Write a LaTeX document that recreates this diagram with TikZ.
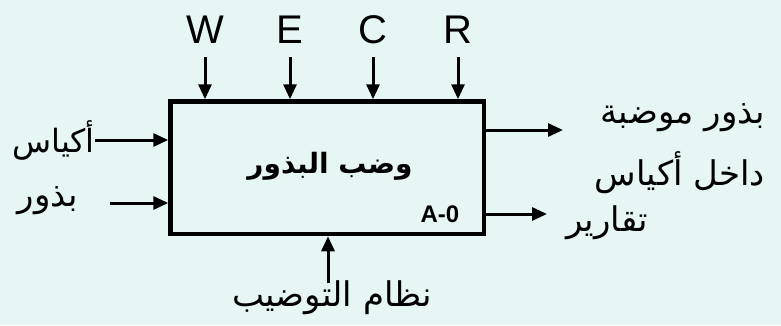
\documentclass[tikz,border=0pt]{standalone}
\usepackage{fontspec}
\setmainfont{Liberation Sans}
\newfontfamily\arabicfont[Script=Arabic]{DejaVu Sans}
\TeXXeTstate=1
\usetikzlibrary{arrows.meta}
\definecolor{bgc}{RGB}{230,246,244}
\tikzset{
  arr/.style={line width=3pt,-{Triangle[length=15pt,width=13pt]}},
  lat/.style={font=\fontsize{40}{40}\selectfont, inner sep=0pt},
  ar/.style={font=\fontsize{34}{34}\arabicfont, inner sep=0pt},
  procbox/.style={draw, line width=4.5pt, minimum width=313.5pt, minimum height=132.5pt, inner sep=0pt}
}
\begin{document}
\begin{tikzpicture}[x=1pt,y=-1pt]
\fill[bgc] (0,0) rectangle (781,325);
\useasboundingbox (0,0) rectangle (781,325);
\node[procbox] (box) at (327.25,167.75) {};
\node[font=\fontsize{28}{28}\arabicfont\bfseries, inner sep=0pt] (title) at (330,166) {\beginR وضب البذور\endR};
\node[font=\fontsize{24}{24}\selectfont\bfseries, inner sep=0pt] (a0) at (440,214) {A-0};
% top controls
\node[lat] (W) at (205,30) {W};
\node[lat] (E) at (290,30) {E};
\node[lat] (C) at (373,30) {C};
\node[lat] (R) at (458,30) {R};
\foreach \n in {W,E,C,R}{
  \coordinate (\n s) at ([yshift=-13pt]\n.south);
  \draw[arr] (\n s) -- (\n s |- box.north);
}
% inputs
\node[ar, font=\fontsize{32}{32}\arabicfont, anchor=east] (aksias) at (95,140) {\beginR أكياس\endR};
\draw[arr] (aksias.east) -- (aksias.east -| box.west);
\node[ar, anchor=east] (buthur) at (78,201) {\beginR بذور\endR};
\coordinate (bs) at (110,203);
\draw[arr] (bs) -- (bs -| box.west);
% outputs
\coordinate (o1) at (563,130);
\coordinate (o2) at (547,214);
\draw[arr] (o1 -| box.east) -- (o1);
\draw[arr] (o2 -| box.east) -- (o2);
\node[ar, anchor=east] (out1a) at (765,118) {\beginR بذور موضبة\endR};
\node[ar, anchor=east] (out1b) at (765,173) {\beginR داخل أكياس\endR};
\node[ar] (taqarir) at (607,223) {\beginR تقارير\endR};
% mechanism
\node[ar] (mech) at (332,298) {\beginR نظام التوضيب\endR};
\coordinate (ms) at (328,283);
\draw[arr] (ms) -- (ms |- box.south);
\end{tikzpicture}
\end{document}
